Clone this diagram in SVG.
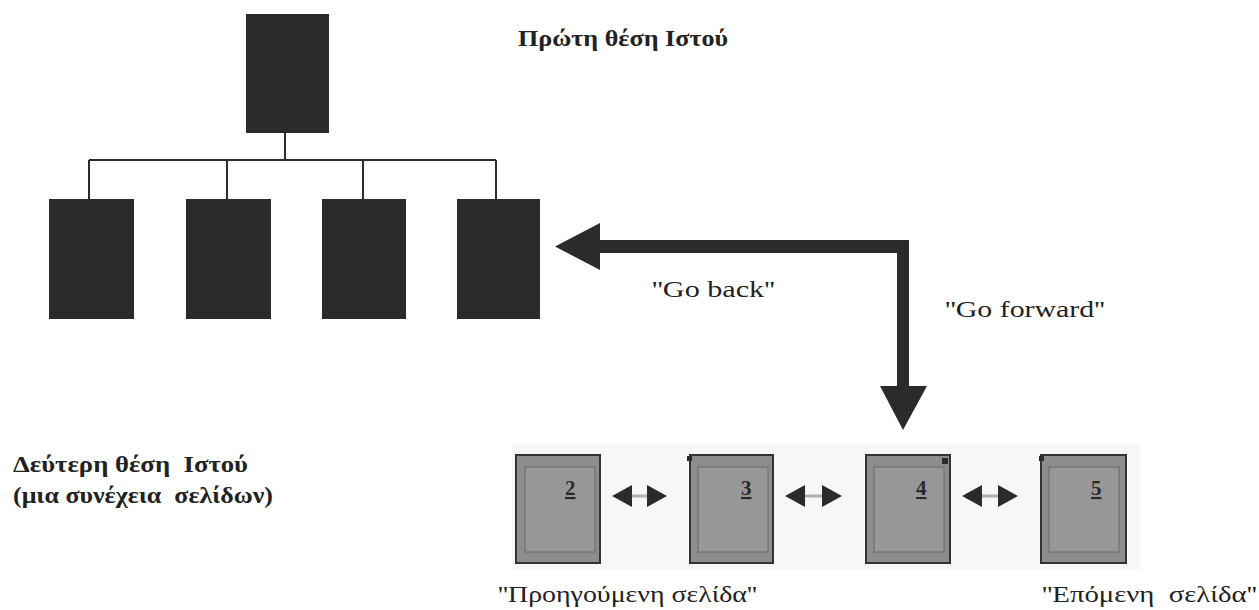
<svg xmlns="http://www.w3.org/2000/svg" width="1259" height="610" viewBox="0 0 1259 610">
<style>
.blk{fill:#2b2b2b}
.ln{stroke:#2b2b2b;stroke-width:2;fill:none}
.t{fill:#222;white-space:pre}
.b{font-weight:bold;font-size:23px}
.r{font-size:24px}
.pg{fill:#8d8d8d;stroke:#333;stroke-width:2}
.pin{fill:#979797;stroke:#6b6b6b;stroke-width:1}
.num{font-weight:bold;font-size:21px;fill:#2a2a2a;text-decoration:underline}
.dash{stroke:#b0b0b0;stroke-width:3}
</style>
<rect width="1259" height="610" fill="#ffffff"/>
<rect x="512" y="444" width="628" height="126" fill="#f7f7f7"/>

<g id="connectors">
  <path class="ln" d="M285,133 V160 M89,160 H496 M89,160 V199 M227,160 V199 M363,160 V199 M496,160 V199"/>
  <path class="blk" d="M555,246.5 L600,223 L600,240 L909,240 L909,386 L927,386 L903,430 L880,386 L897,386 L897,253 L600,253 L600,270 Z"/>
  <g id="dbl1"><path class="dash" d="M630,496 H649"/><path class="blk" d="M612,496 L632,485 L632,507 Z M667,496 L647,485 L647,507 Z"/></g>
  <g id="dbl2"><path class="dash" d="M803,496 H824"/><path class="blk" d="M785,496 L805,485 L805,507 Z M842,496 L822,485 L822,507 Z"/></g>
  <g id="dbl3"><path class="dash" d="M980,496 H1000"/><path class="blk" d="M962,496 L982,485 L982,507 Z M1018,496 L998,485 L998,507 Z"/></g>
</g>

<g id="home"><rect class="blk" x="246" y="14" width="83" height="119"/></g>
<g id="child1"><rect class="blk" x="49" y="199" width="85" height="120"/></g>
<g id="child2"><rect class="blk" x="186" y="199" width="85" height="120"/></g>
<g id="child3"><rect class="blk" x="322" y="199" width="84" height="120"/></g>
<g id="child4"><rect class="blk" x="457" y="199" width="83" height="120"/></g>

<g font-family="'Liberation Serif', 'DejaVu Serif', serif">
<text id="title1" class="t b" x="518" y="46" textLength="210" lengthAdjust="spacingAndGlyphs">Πρώτη θέση Ιστού</text>

<g id="label-back"><text class="t r" x="652" y="297" textLength="123" lengthAdjust="spacingAndGlyphs">''Go back''</text></g>
<g id="label-forward"><text class="t r" x="945" y="317" textLength="160" lengthAdjust="spacingAndGlyphs">''Go forward''</text></g>

<g id="title2">
  <text class="t b" x="13" y="472" textLength="235" lengthAdjust="spacingAndGlyphs">Δεύτερη θέση  Ιστού</text>
  <text class="t b" x="13" y="503" textLength="260" lengthAdjust="spacingAndGlyphs">(μια συνέχεια  σελίδων)</text>
</g>

<g id="page2">
  <rect class="pg" x="516" y="455" width="84" height="108"/>
  <rect class="pin" x="525" y="467" width="70" height="85"/>
  <text class="num" x="565" y="495">2</text>
</g>
<g id="page3">
  <rect class="pg" x="690" y="455" width="83" height="108"/>
  <rect class="pin" x="698" y="467" width="70" height="85"/>
  <rect class="blk" x="687" y="456" width="5" height="5"/>
  <text class="num" x="741" y="495">3</text>
</g>
<g id="page4">
  <rect class="pg" x="866" y="455" width="84" height="108"/>
  <rect class="pin" x="874" y="467" width="70" height="85"/>
  <rect class="blk" x="942" y="458" width="6" height="6"/>
  <text class="num" x="916" y="495">4</text>
</g>
<g id="page5">
  <rect class="pg" x="1041" y="455" width="85" height="108"/>
  <rect class="pin" x="1049" y="467" width="70" height="85"/>
  <rect class="blk" x="1039" y="456" width="5" height="5"/>
  <text class="num" x="1091" y="495">5</text>
</g>

<g id="label-prev"><text class="t r" x="498" y="602" textLength="259" lengthAdjust="spacingAndGlyphs">''Προηγούμενη σελίδα''</text></g>
<g id="label-next"><text class="t r" x="1042" y="602" textLength="215" lengthAdjust="spacingAndGlyphs">''Επόμενη  σελίδα''</text></g>
</g>
</svg>
